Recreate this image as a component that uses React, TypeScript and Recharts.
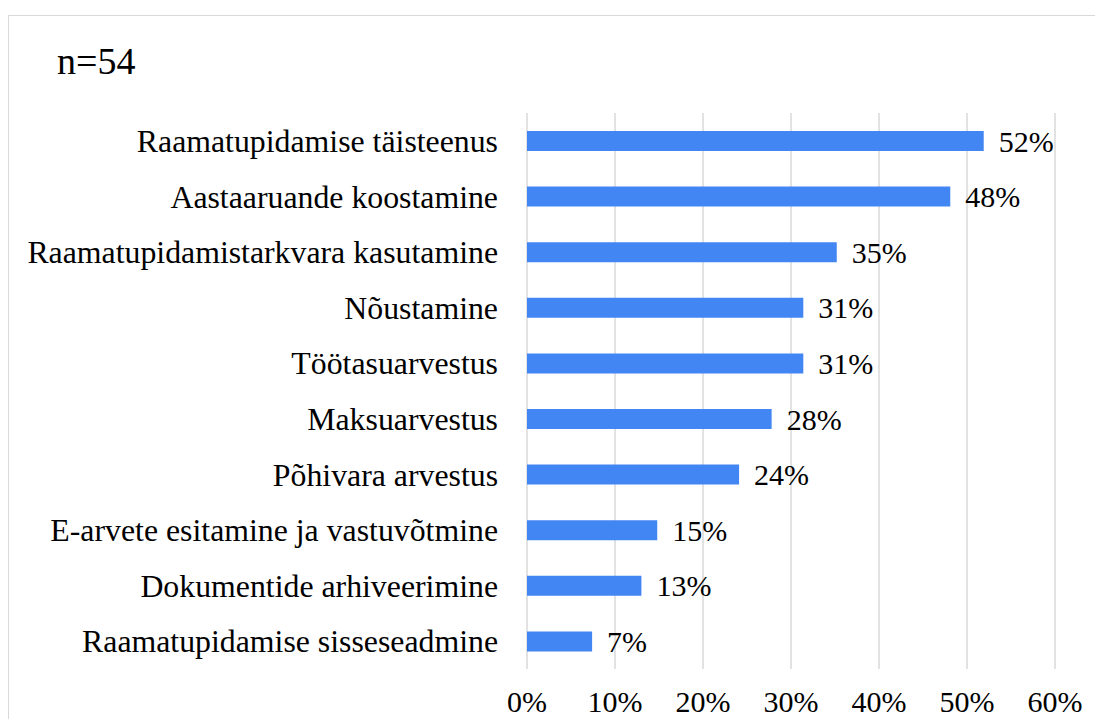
import { BarChart, Bar, XAxis, YAxis, CartesianGrid, LabelList } from 'recharts'

const categories = [
  'Raamatupidamise täisteenus',
  'Aastaaruande koostamine',
  'Raamatupidamistarkvara kasutamine',
  'Nõustamine',
  'Töötasuarvestus',
  'Maksuarvestus',
  'Põhivara arvestus',
  'E-arvete esitamine ja vastuvõtmine',
  'Dokumentide arhiveerimine',
  'Raamatupidamise sisseseadmine',
]
const shares = [51.9, 48.1, 35.2, 31.4, 31.4, 27.8, 24.1, 14.8, 13.0, 7.4]
const xTicks = [0, 10, 20, 30, 40, 50, 60]

const data = categories.map((name, i) => ({ name, share: shares[i] }))

const font = 'Liberation Serif, Times New Roman, serif'

export default function App() {
  return (
    <div
      style={{
        width: 1095,
        height: 704,
        marginTop: 7,
        overflow: 'hidden',
        position: 'relative',
        fontFamily: font,
      }}
    >
      <div
        style={{
          position: 'absolute',
          left: 0,
          top: 0,
          width: 1130,
          height: 760,
          border: '1px solid #d9d9d9',
          boxSizing: 'border-box',
        }}
      />
      <div
        style={{
          position: 'absolute',
          left: 49,
          top: 27,
          fontSize: 38,
          color: '#000',
          lineHeight: 1,
        }}
      >
        n=54
      </div>
      <div style={{ position: 'absolute', left: 0, top: 0 }}>
        <BarChart
          width={1095}
          height={704}
          data={data}
          layout="vertical"
          margin={{ top: 98, right: 48, bottom: 10, left: 0 }}
          barCategoryGap={0}
          style={{ fontFamily: font }}
        >
          <CartesianGrid horizontal={false} stroke="#d9d9d9" strokeWidth={1.5} />
          <XAxis
            type="number"
            domain={[0, 60]}
            ticks={xTicks}
            tickFormatter={(v) => `${v}%`}
            axisLine={false}
            tickLine={false}
            tickSize={0}
            tickMargin={22}
            height={40}
            fontFamily={font}
            fontSize={30}
            tick={{ fill: '#000', fontSize: 30, fontFamily: font }}
          />
          <YAxis
            type="category"
            dataKey="name"
            width={519}
            axisLine={false}
            tickLine={false}
            tickSize={0}
            tickMargin={29}
            interval={0}
            fontFamily={font}
            fontSize={31.8}
            tick={{ fill: '#000', fontSize: 31.8, fontFamily: font }}
          />
          <Bar dataKey="share" fill="#4286f4" barSize={20} isAnimationActive={false}>
            <LabelList
              dataKey="share"
              position="right"
              offset={15}
              fill="#000"
              fontSize={30}
              fontFamily={font}
              formatter={(v: number) => `${Math.round(v)}%`}
            />
          </Bar>
        </BarChart>
      </div>
    </div>
  )
}
